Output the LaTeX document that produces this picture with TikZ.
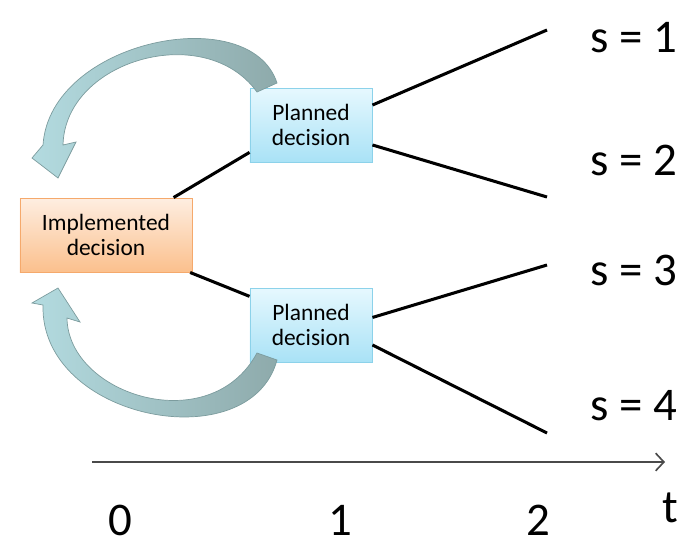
\documentclass[tikz,border=0pt]{standalone}
\usepackage{fontspec}
\setmainfont{Carlito}
\usetikzlibrary{positioning,shadows,arrows.meta}
\definecolor{implTop}{HTML}{FEEEE1}
\definecolor{implBot}{HTML}{FBC08D}
\definecolor{implLine}{HTML}{F5A96C}
\definecolor{planTop}{HTML}{E6F8FE}
\definecolor{planBot}{HTML}{A9E2F6}
\definecolor{planLine}{HTML}{8CD2EA}
\definecolor{loopLight}{HTML}{B3DBE0}
\definecolor{loopDark}{HTML}{8EAAAB}
\definecolor{loopLine}{HTML}{7C9C9E}
\definecolor{axisGray}{HTML}{4A4A4A}

\begin{document}
\begin{tikzpicture}[x=0.03cm,y=-0.03cm,
    decbox/.style={draw,line width=0.8pt,inner sep=0pt,align=center,
                   minimum height=2.22cm,
                   font=\fontsize{20}{21.5}\selectfont,
                   drop shadow={opacity=0.25,shadow xshift=0.8pt,shadow yshift=-1pt}},
    implbox/.style={decbox,minimum width=5.16cm,
                    top color=implTop,bottom color=implBot,draw=implLine},
    planbox/.style={decbox,minimum width=3.66cm,
                    top color=planTop,bottom color=planBot,draw=planLine},
    branch/.style={line width=2.6pt,black},
    loop/.style={draw=loopLine,line width=0.6pt,left color=loopLight,
                 middle color=loopLight,right color=loopDark},
    biglabel/.style={inner sep=0pt,anchor=base,font=\fontsize{40}{44}\selectfont}]

  \useasboundingbox (0,0) rectangle (693,548);

  \node [implbox] (impl) at (106,235) {Implemented\\decision};
  \node [planbox] (planA) at (311,125) {Planned\\decision};
  \node [planbox] (planB) at (311,325) {Planned\\decision};

  \coordinate (e1) at (547,30);
  \coordinate (e2) at (547,197);
  \coordinate (e3) at (547,265);
  \coordinate (e4) at (547,433);

  \draw [branch] (impl.29) -- (planA.204);
  \draw [branch] (impl.336) -- (planB.155);
  \draw [branch] (planA.18) -- (e1);
  \draw [branch] (planA.-18) -- (e2);
  \draw [branch] (planB.7) -- (e3);
  \draw [branch] (planB.-18) -- (e4);

  % curved arrows back to the implemented decision
  \path [loop] (277,83) .. controls (250,0) and (50,40) .. (43,145)
    -- (32,158) -- (58,178) -- (76,142) -- (63,145)
    .. controls (65,60) and (205,20) .. (257,92) -- cycle;
  \path [loop] (277,360) .. controls (250,460) and (40,420) .. (43,305)
    -- (32,303) -- (58,288) -- (80,322) -- (67,318)
    .. controls (68,395) and (210,440) .. (257,353) -- cycle;

  \node [biglabel] (s1) at (634,52) {s = 1};
  \node [biglabel] (s2) at (634,175) {s = 2};
  \node [biglabel] (s3) at (634,285) {s = 3};
  \node [biglabel] (s4) at (634,420) {s = 4};

  \coordinate (a0) at (92,462);
  \coordinate (a1) at (665,462);
  \draw [axisGray,line width=1.4pt,-{Straight Barb[length=7pt,width=15pt]}] (a0) -- (a1);

  \node [biglabel] (t0) at (120,535) {0};
  \node [biglabel] (t1) at (340,535) {1};
  \node [biglabel] (t2) at (538,535) {2};
  \node [biglabel] (tt) at (670,522) {t};

\end{tikzpicture}
\end{document}
